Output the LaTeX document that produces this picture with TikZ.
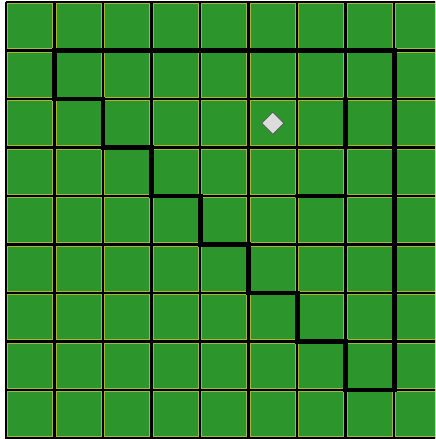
\documentclass[tikz,border=0pt]{standalone}
\usepackage{tikz}
\usetikzlibrary{shapes.geometric}
\definecolor{cgreen}{HTML}{2C962C}
\definecolor{cedge}{HTML}{A8B43A}
\definecolor{mgray}{HTML}{DCDCDC}
\definecolor{mgrayd}{HTML}{555555}
\tikzset{
  % one board square, inset so the black rule shows between squares
  cell/.style  = {fill=cgreen, draw=cedge, line width=0.55pt},
  rule/.style  = {black, line width=1.2pt},
  wall/.style  = {black, line width=2.9pt, line join=miter},
  bar/.style   = {black, line width=2.9pt, line cap=round},
  gem/.style   = {diamond, fill=mgray, draw=mgrayd, line width=0.4pt,
                  minimum width=4.6mm, minimum height=4.6mm, inner sep=0pt},
}
\begin{document}
\begin{tikzpicture}[x=1cm,y=1cm]
\useasboundingbox (-0.124,-0.010) rectangle (8.845,9.041);
\clip (-0.124,-0.010) rectangle (8.845,9.041);
\fill[black] (0,0) rectangle (9,9);
% squares
\foreach \i in {0,...,8}
  \foreach \j in {0,...,8}
    {\draw[cell] (\i+0.035,\j+0.035) rectangle (\i+0.965,\j+0.965);}
% rules
\foreach \k in {0,...,9}
  {\draw[rule] (\k,0) -- (\k,9);
   \draw[rule] (0,\k) -- (9,\k);}
% staircase outline
\draw[wall] (1,8) -- (1,7) -- (2,7) -- (2,6) -- (3,6) -- (3,5) -- (4,5) -- (4,4)
  -- (5,4) -- (5,3) -- (6,3) -- (6,2) -- (7,2) -- (7,1) -- (8,1) -- (8,8) -- cycle;
% loose pieces
\draw[bar] (7,7) -- (7,6);
\draw[bar] (6,5) -- (7,5);
\node[gem] (gem) at (5.5,6.5) {};
\end{tikzpicture}
\end{document}
